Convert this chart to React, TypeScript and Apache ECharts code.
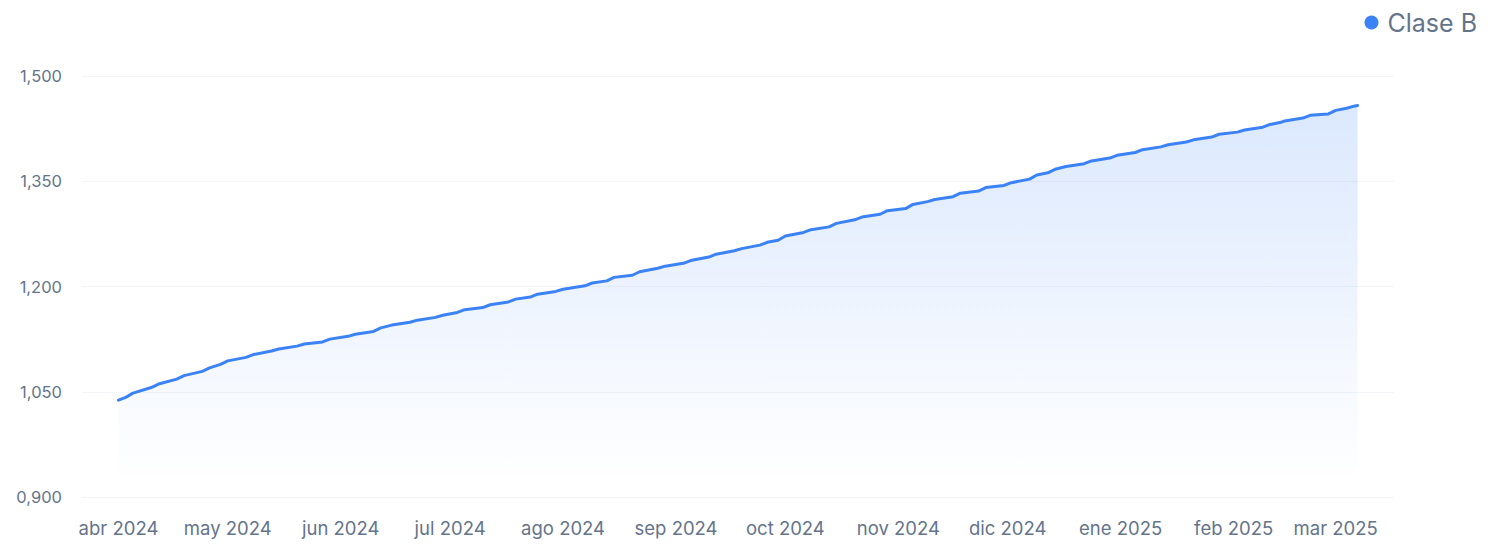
import React, { useEffect, useRef } from "react";
import * as echarts from "echarts";

const seriesName = "Clase B";

const dates = [
  "2024-04-01", "2024-04-03", "2024-04-05", "2024-04-10", "2024-04-12", "2024-04-17", "2024-04-19",
  "2024-04-24", "2024-04-26", "2024-04-29", "2024-05-01", "2024-05-06", "2024-05-08", "2024-05-13",
  "2024-05-15", "2024-05-20", "2024-05-22", "2024-05-27", "2024-05-29", "2024-06-03", "2024-06-05",
  "2024-06-10", "2024-06-12", "2024-06-15", "2024-06-20", "2024-06-22", "2024-06-27", "2024-06-29",
  "2024-07-03", "2024-07-05", "2024-07-10", "2024-07-12", "2024-07-17", "2024-07-19", "2024-07-23",
  "2024-07-25", "2024-07-30", "2024-08-01", "2024-08-07", "2024-08-09", "2024-08-13", "2024-08-15",
  "2024-08-20", "2024-08-22", "2024-08-27", "2024-08-29", "2024-09-03", "2024-09-05", "2024-09-10",
  "2024-09-12", "2024-09-17", "2024-09-19", "2024-09-24", "2024-09-26", "2024-09-29", "2024-10-01",
  "2024-10-06", "2024-10-08", "2024-10-13", "2024-10-15", "2024-10-20", "2024-10-22", "2024-10-27",
  "2024-10-29", "2024-11-03", "2024-11-05", "2024-11-09", "2024-11-11", "2024-11-16", "2024-11-18",
  "2024-11-23", "2024-11-25", "2024-11-30", "2024-12-02", "2024-12-07", "2024-12-09", "2024-12-12",
  "2024-12-14", "2024-12-17", "2024-12-22", "2024-12-24", "2024-12-29", "2024-12-31", "2025-01-05",
  "2025-01-07", "2025-01-12", "2025-01-14", "2025-01-19", "2025-01-21", "2025-01-26", "2025-01-28",
  "2025-02-02", "2025-02-04", "2025-02-09", "2025-02-11", "2025-02-14", "2025-02-15", "2025-02-20",
  "2025-02-22", "2025-02-27", "2025-03-01", "2025-03-04", "2025-03-06", "2025-03-07",
];

const values = [
  1.038, 1.042, 1.048, 1.056, 1.061, 1.068, 1.073,
  1.079, 1.084, 1.089, 1.094, 1.099, 1.103, 1.108,
  1.111, 1.115, 1.118, 1.121, 1.125, 1.129, 1.132,
  1.136, 1.141, 1.145, 1.149, 1.152, 1.156, 1.159,
  1.163, 1.167, 1.170, 1.174, 1.178, 1.182, 1.185,
  1.189, 1.193, 1.196, 1.201, 1.205, 1.208, 1.213,
  1.216, 1.221, 1.226, 1.229, 1.233, 1.237, 1.242,
  1.246, 1.251, 1.254, 1.259, 1.263, 1.266, 1.272,
  1.277, 1.281, 1.285, 1.290, 1.295, 1.299, 1.303,
  1.308, 1.311, 1.317, 1.321, 1.324, 1.328, 1.333,
  1.336, 1.341, 1.344, 1.348, 1.353, 1.359, 1.362,
  1.367, 1.371, 1.375, 1.379, 1.383, 1.387, 1.391,
  1.395, 1.399, 1.402, 1.406, 1.409, 1.413, 1.417,
  1.420, 1.423, 1.427, 1.431, 1.434, 1.436, 1.440,
  1.444, 1.446, 1.451, 1.454, 1.457, 1.458,
];

const tickDates = [
  "2024-04-01", "2024-05-01", "2024-06-01", "2024-07-01", "2024-08-01", "2024-09-01",
  "2024-10-01", "2024-11-01", "2024-12-01", "2025-01-01", "2025-02-01", "2025-03-01",
];
const tickLabels = [
  "abr 2024", "may 2024", "jun 2024", "jul 2024", "ago 2024", "sep 2024",
  "oct 2024", "nov 2024", "dic 2024", "ene 2025", "feb 2025", "mar 2025",
];

const xRange = ["2024-03-22", "2025-03-17"];
const yMin = 0.9;
const yMax = 1.5;
const yStep = 0.15;

function ts(s: string): number {
  const [y, m, d] = s.split("-").map(Number);
  return new Date(y, m - 1, d).getTime();
}

const FONT = "Inter, 'Noto Sans', sans-serif";
const TEXT = "#64748b";
const BLUE = "#3b82f6";

export default function App() {
  const ref = useRef<HTMLDivElement>(null);

  useEffect(() => {
    if (!ref.current) return;
    const chart = echarts.init(ref.current, undefined, { renderer: "svg" });
    const tickTs = tickDates.map(ts);
    const labelFor = (v: number) => {
      let best = 0;
      let bd = Infinity;
      tickTs.forEach((t, i) => {
        const d = Math.abs(t - v);
        if (d < bd) {
          bd = d;
          best = i;
        }
      });
      return bd < 86400000 ? tickLabels[best] : "";
    };

    chart.setOption({
      animation: false,
      textStyle: { fontFamily: FONT },
      legend: {
        show: true,
        right: 20,
        top: 5,
        icon: "circle",
        itemWidth: 14,
        itemHeight: 14,
        itemGap: 10,
        textStyle: { color: TEXT, fontSize: 25, fontFamily: FONT, padding: [0, 0, 0, 4] },
        data: [seriesName],
      },
      grid: { left: 82, right: 108, top: 76, bottom: 47 },
      xAxis: {
        type: "value",
        min: ts(xRange[0]),
        max: ts(xRange[1]),
        axisLine: { show: false },
        axisTick: { show: false },
        splitLine: { show: false },
        axisLabel: {
          customValues: tickTs,
          formatter: (v: number) => labelFor(v),
          color: TEXT,
          fontSize: 18.5,
          fontFamily: FONT,
          margin: 21,
          hideOverlap: false,
          showMinLabel: true,
          showMaxLabel: true,
        },
      },
      yAxis: {
        type: "value",
        min: yMin,
        max: yMax,
        interval: yStep,
        axisLine: { show: false },
        axisTick: { show: false },
        axisLabel: {
          formatter: (v: number) => v.toFixed(3).replace(".", ","),
          color: TEXT,
          fontSize: 16.5,
          fontFamily: FONT,
          margin: 20,
        },
        splitLine: { lineStyle: { color: "#f1f5f9", width: 1 } },
      },
      series: [
        {
          name: seriesName,
          type: "line",
          data: dates.map((d, i) => [ts(d), values[i]]),
          showSymbol: false,
          symbol: "circle",
          color: BLUE,
          lineStyle: { color: BLUE, width: 3, cap: "round", join: "round" },
          areaStyle: {
            color: new echarts.graphic.LinearGradient(0, 0, 0, 1, [
              { offset: 0, color: "rgba(59,130,246,0.26)" },
              { offset: 0.96, color: "rgba(59,130,246,0.0)" },
              { offset: 1, color: "rgba(59,130,246,0.0)" },
            ]),
          },
        },
      ],
    });
    return () => chart.dispose();
  }, []);

  return (
    <div
      ref={ref}
      style={{ position: "fixed", left: 0, top: 0, width: 1502, height: 544, background: "#fff" }}
    />
  );
}
